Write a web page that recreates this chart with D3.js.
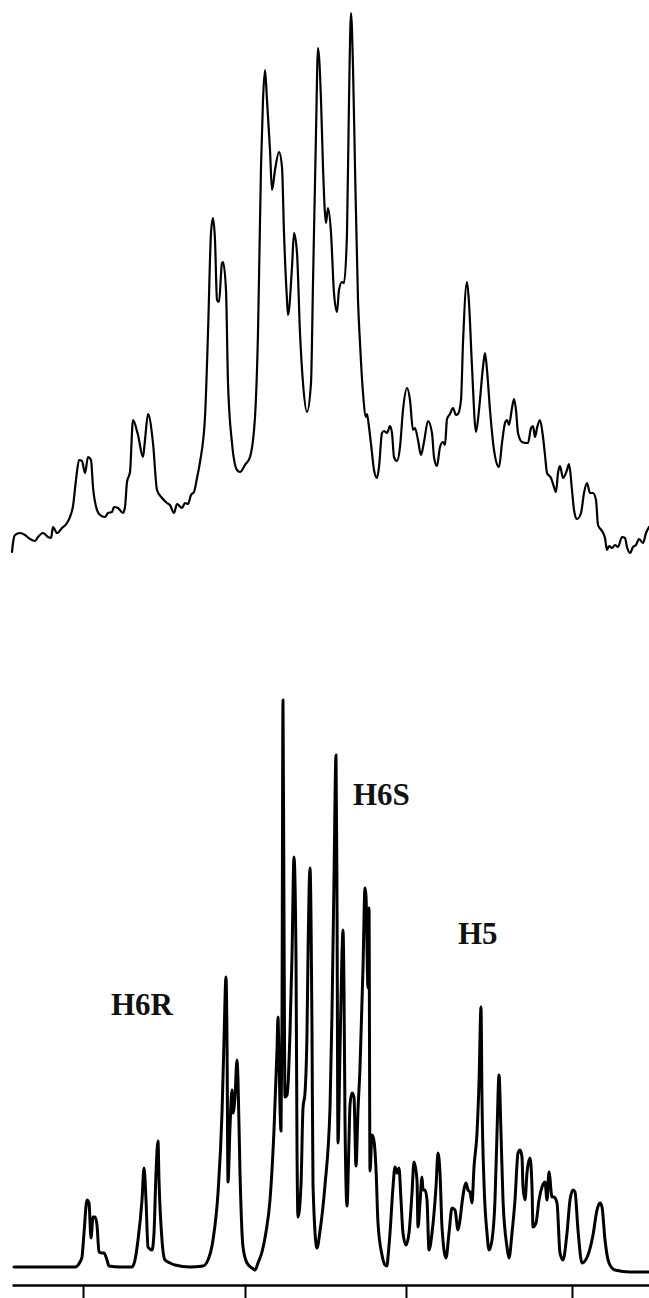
<!DOCTYPE html>
<html lang="en">
<head>
<meta charset="UTF-8">
<title>Spectrum</title>
<script src="https://d3js.org/d3.v7.min.js"></script>
<style>
    html, body { margin: 0; padding: 0; background: #fff; }
    svg { display: block; }
    .trace { fill: none; stroke: #000; stroke-linejoin: round; stroke-linecap: round; }
    .label { font-family: "Liberation Serif", "DejaVu Serif", serif; font-weight: bold; font-size: 31px; fill: #111; }
    .axis path, .axis line { stroke: #000; }
</style>
</head>
<body>
<div id="chart"></div>
<script>
// observed spectrum (top) - channel vs intensity
const obsChannel = [12,13,15,20,25,30,35,38,43,48,51,53,57,62,67,70,73,76,79,82,85,88,91,93,97,100,105,108,112,114,118,123,125,127,130,133,138,143,145,148,153,157,162,167,170,174,177,182,185,188,191,194,197,200,205,208,211,213,215,217,219,222,223,226,228,232,237,240,245,250,255,258,261,263,265,267,270,272,275,279,282,284,287,288,292,294,297,300,303,307,311,313,316,318,321,323,326,328,331,334,337,339,342,344,347,349,351,353,355,358,360,363,366,367,369,372,374,377,379,382,384,387,390,392,394,397,400,403,407,410,413,415,418,421,424,428,432,434,437,440,443,445,447,450,453,456,458,461,463,467,469,472,476,479,483,485,487,490,494,499,502,505,507,509,512,514,516,518,522,526,528,531,533,535,537,540,543,545,547,551,554,556,558,560,563,567,569,572,574,577,581,584,587,590,593,596,598,602,605,607,609,612,615,618,622,625,627,630,633,636,639,643,646,649];
const obsIntensity = [8,17,25,27,25,21,19,23,27,23,22,33,27,32,37,43,54,80,100,99,87,103,100,73,50,45,43,47,48,53,52,47,53,78,88,140,125,103,120,146,117,70,62,57,55,47,56,52,57,56,65,68,82,98,143,227,327,342,320,260,258,297,298,270,177,117,90,88,95,103,143,227,393,460,490,460,410,370,390,408,393,327,260,245,293,327,307,227,177,148,177,277,427,512,460,393,337,352,327,267,248,270,278,277,327,460,547,493,393,260,217,167,143,146,133,107,90,82,93,127,129,127,134,127,103,99,113,150,172,160,130,132,120,105,118,139,127,103,94,113,118,115,141,146,152,145,146,160,217,278,257,193,128,150,193,207,190,150,110,93,117,137,140,135,152,161,150,127,118,117,117,132,134,123,132,140,123,105,87,82,73,68,87,94,82,90,96,70,50,41,47,67,77,67,67,60,35,29,22,10,14,12,15,13,23,22,13,7,13,15,21,17,27,33];

// simulated spectrum (bottom)
const simChannel = [14,60,75,80,82,84,87,89,91,93,95,97,99,102,104,107,109,120,132,135,138,142,144,146,148,152,154,156,158,159,162,165,170,175,190,203,208,213,218,222,224,226,227,228,230,232,233,235,237,238,240,243,247,252,255,258,262,266,270,274,277,278,279,281,282,283,284,285,287,288,290,292,294,296,297,298,301,303,305,307,308,310,312,313,317,320,325,330,332,334,336,337,338,340,342,343,344,345,347,349,350,352,354,356,358,360,363,365,366,368,369,370,372,374,376,378,382,385,387,388,390,393,395,397,399,401,403,406,409,412,414,417,418,420,422,423,425,427,429,432,436,438,440,442,446,449,452,455,458,460,462,466,468,470,472,474,477,479,481,482,484,487,489,492,495,497,499,501,503,507,509,512,515,518,520,522,523,525,527,530,532,533,536,539,542,545,547,549,552,554,557,560,563,567,570,573,575,578,582,588,593,597,600,602,605,609,615,630,649];
const simIntensity = [1,1,1,6,11,35,68,65,30,51,51,43,16,15,15,8,2,1,1,8,28,68,100,68,21,18,35,95,127,88,28,8,5,3,1,2,8,28,75,155,228,291,228,86,141,178,155,171,208,188,95,21,5,0,-2,5,16,36,68,138,218,251,208,137,248,568,350,171,173,183,236,312,411,312,121,51,83,160,175,236,312,400,236,83,20,37,83,160,255,389,513,368,125,218,315,338,280,148,62,128,163,175,171,102,158,200,300,380,372,280,360,97,133,127,99,45,13,3,2,11,35,81,101,95,100,68,35,23,35,75,106,88,41,65,91,78,78,68,18,35,81,115,95,41,10,35,60,58,38,48,65,85,78,76,65,101,135,185,261,168,85,35,18,28,68,135,193,135,68,21,10,35,68,115,118,111,81,68,95,110,81,41,45,68,81,86,68,96,71,71,65,15,8,35,68,78,76,38,5,13,33,58,65,61,28,5,-2,-4,-4];

const tickChannels = [83, 245, 406, 572];

const peakLabels = ["H6R", "H6S", "H5"];
const labelChannel = [111, 353, 458];
const labelIntensity = [253, 463, 324];

const W = 649, H = 1298;

const svg = d3.select("#chart").append("svg")
    .attr("width", W)
    .attr("height", H);

const x = d3.scaleLinear().domain([12, 649]).range([12, 649]);

// top panel: baseline around y=560
const yObs = d3.scaleLinear().domain([0, 560]).range([560, 0]);
// bottom panel: baseline around y=1268
const ySim = d3.scaleLinear().domain([0, 571]).range([1268, 697]);

const obs = obsChannel.map((c, i) => [c, obsIntensity[i]]);
const sim = simChannel.map((c, i) => [c, simIntensity[i]]);

const lineObs = d3.line()
    .x(d => x(d[0]))
    .y(d => yObs(d[1]))
    .curve(d3.curveMonotoneX);

const lineSim = d3.line()
    .x(d => x(d[0]))
    .y(d => ySim(d[1]))
    .curve(d3.curveMonotoneX);

svg.append("path")
    .datum(obs)
    .attr("class", "trace")
    .attr("stroke-width", 2.2)
    .attr("d", lineObs);

svg.append("path")
    .datum(sim)
    .attr("class", "trace")
    .attr("stroke-width", 3)
    .attr("d", lineSim);

// bottom axis, ticks only
const axis = d3.axisBottom(x)
    .tickValues(tickChannels)
    .tickSize(14)
    .tickSizeOuter(0)
    .tickFormat("");

const gAxis = svg.append("g")
    .attr("class", "axis")
    .attr("transform", "translate(0,1285)")
    .call(axis);
gAxis.select(".domain").attr("stroke-width", 2.6);
gAxis.selectAll(".tick line").attr("stroke-width", 2);

// peak labels
svg.selectAll(".label")
    .data(peakLabels)
    .enter()
    .append("text")
    .attr("class", "label")
    .attr("x", (d, i) => x(labelChannel[i]))
    .attr("y", (d, i) => ySim(labelIntensity[i]))
    .text(d => d);
</script>
</body>
</html>
